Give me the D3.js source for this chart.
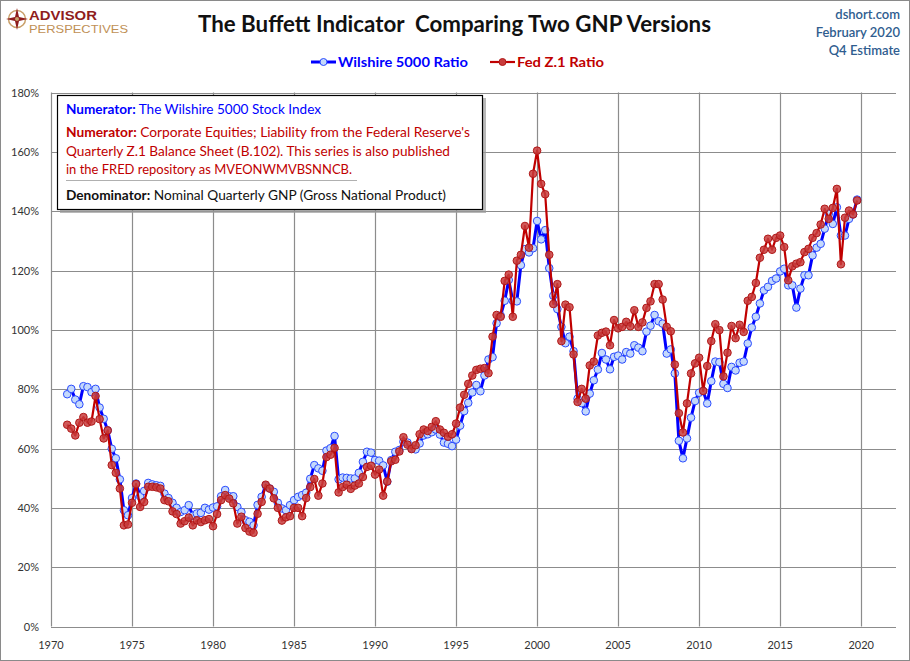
<!DOCTYPE html>
<html>
<head>
<meta charset="utf-8">
<script src="https://cdn.jsdelivr.net/npm/d3@7"></script>
<style>
  body { margin: 0; background: #fff; }
  svg { display: block; font-family: Lato, "Open Sans", sans-serif; }
</style>
</head>
<body>
<svg id="chart" width="910" height="661"></svg>
<script>
// quarterly ratios, Q1 1971 .. Q4 2019 (percent of GNP)
var firstYear = 1971, lastYear = 2019;

var wilshire = [
  78.3, 80.1, 76.5, 74.9,  81.0, 80.7, 79.0, 80.1,  73.8, 70.0, 66.1, 59.9,  56.7, 49.6, 39.2, 37.5,
  43.3, 48.2, 43.9, 45.7,  48.4, 47.9, 47.6, 47.4,  44.8, 43.3, 41.7, 40.0,  38.6, 39.2, 40.9, 37.3,
  38.1, 38.3, 40.0, 39.4,  40.1, 40.5, 43.9, 46.0,  43.9, 43.9, 40.3, 38.6,  35.8, 35.3, 34.1, 41.0,
  43.7, 47.5, 46.5, 45.4,  41.7, 39.8, 39.2, 40.9,  42.6, 43.7, 44.3, 45.1,  49.8, 54.4, 53.3, 52.5,
  59.3, 60.1, 64.2, 49.6,  50.2, 50.1, 49.9, 49.9,  51.8, 55.5, 58.9, 58.6,  56.1, 55.9, 54.3, 48.8,
  56.1, 58.9, 59.5, 62.3,  62.0, 60.1, 59.7, 61.7,  64.4, 64.8, 65.5, 66.4,  64.7, 62.0, 61.6, 60.8,
  63.0, 67.7, 72.6, 75.4,  78.9, 81.4, 79.3, 84.6,  90.0, 90.8, 102.2, 104.8, 109.8, 116.8, 109.8, 109.6,
  121.8, 127.2, 126.1, 127.5, 136.7, 130.5, 133.6, 120.8, 111.5, 107.0, 101.0, 95.5, 97.7, 92.8, 76.8, 75.3,
  72.5, 78.5, 83.0, 86.6,  92.2, 90.0, 86.7, 90.9,  91.3, 90.0, 92.5, 92.0,  94.8, 94.0, 92.8, 99.4,
  101.4, 105.0, 102.9, 102.1, 92.0, 93.4, 85.3, 62.6, 56.7, 63.4, 70.4, 76.0, 78.8, 79.4, 75.2, 82.7,
  89.3, 89.1, 81.8, 80.4,  87.5, 86.3, 88.9, 89.3,  95.4, 100.8, 104.4, 108.9, 113.3, 114.5, 116.5, 117.3,
  119.7, 120.6, 115.0, 115.0, 107.5, 113.9, 118.4, 118.4, 125.1, 127.7, 129.0, 134.1, 139.1, 135.7, 141.3, 131.8,
  131.8, 137.4, 138.9, 143.9
];

var fedZ1 = [
  68.0, 66.7, 64.4, 68.7,  70.6, 68.7, 69.1, 77.7,  69.9, 63.4, 66.1, 54.4,  51.8, 46.5, 34.1, 34.4,
  41.7, 48.0, 40.3, 42.0,  47.1, 47.1, 46.9, 46.5,  42.6, 42.2, 38.8, 37.9,  34.7, 35.5, 36.7, 34.1,
  35.8, 35.2, 35.8, 36.2,  33.8, 37.9, 42.6, 44.3,  43.1, 41.5, 34.7, 37.0,  33.2, 32.0, 31.6, 38.0,
  42.0, 47.8, 46.5, 43.2,  40.0, 35.7, 36.8, 37.2,  40.0, 40.0, 37.2, 43.3,  47.0, 49.7, 44.1, 48.2,
  57.1, 57.9, 60.2, 45.2,  47.0, 47.8, 46.4, 47.5,  48.2, 50.4, 53.8, 54.2,  51.2, 52.9, 44.1, 48.9,
  55.7, 56.2, 59.0, 63.8,  61.3, 59.8, 61.1, 64.8,  66.4, 65.9, 67.3, 69.2,  66.4, 65.3, 64.0, 64.8,
  68.4, 73.8, 78.1, 81.8,  84.6, 86.5, 86.9, 87.1,  85.4, 97.7, 105.0, 104.4, 116.5, 118.6, 104.4, 123.3,
  125.3, 135.0, 127.7, 152.6, 160.4, 149.2, 145.7, 125.3, 108.7, 115.4, 96.2, 108.5, 107.6, 91.7, 75.7, 80.1,
  76.8, 88.0, 89.3, 98.1,  99.0, 99.4, 94.8, 103.3,  100.5, 101.0, 102.7, 101.2, 106.6, 101.0, 102.5, 107.4,
  109.6, 115.4, 115.4, 110.2, 101.0, 99.5, 88.3, 71.9, 65.4, 75.2, 85.3, 88.7, 90.6, 79.4, 87.8, 96.2,
  101.9, 99.9, 84.3, 92.3, 101.3, 97.2, 101.7, 99.3, 109.8, 111.1, 115.8, 124.3, 127.0, 130.7, 127.0, 131.0,
  131.8, 127.9, 116.7, 121.4, 122.3, 122.8, 126.2, 127.3, 131.0, 132.6, 135.5, 140.8, 137.4, 141.1, 147.5, 122.1,
  137.8, 140.2, 138.9, 143.6
];

var yTicks = [0, 20, 40, 60, 80, 100, 120, 140, 160, 180];
var xTicks = [1970, 1975, 1980, 1985, 1990, 1995, 2000, 2005, 2010, 2015, 2020];

var titleText = "The Buffett Indicator  Comparing Two GNP Versions";
var sourceLines = ["dshort.com", "February 2020", "Q4 Estimate"];
var seriesNames = ["Wilshire 5000 Ratio", "Fed Z.1 Ratio"];

var quarters = d3.range(firstYear, lastYear + 1, 0.25);

var svg = d3.select("#chart"),
    margin = {top: 92.5, right: 14, bottom: 34.5, left: 51},
    width = +svg.attr("width") - margin.left - margin.right,
    height = +svg.attr("height") - margin.top - margin.bottom;

var blue = "#0000ff", red = "#c00000", grid = "#8c8c8c";

// frame
svg.append("rect").attr("x", 0.5).attr("y", 0.5).attr("width", 909).attr("height", 660)
  .attr("fill", "#fff").attr("stroke", "#8a8a8a");

var x = d3.scaleLinear().domain([1970, 2022.15]).range([margin.left, margin.left + width]);
var y = d3.scaleLinear().domain([0, 180]).range([margin.top + height, margin.top]);

var g = svg.append("g");

// grid
g.selectAll(".hgrid").data(yTicks).enter().append("line")
  .attr("x1", x(1970)).attr("x2", x.range()[1])
  .attr("y1", function(d) { return Math.round(y(d)) + 0.5; })
  .attr("y2", function(d) { return Math.round(y(d)) + 0.5; })
  .attr("stroke", grid).attr("stroke-width", 1.2);

g.selectAll(".vgrid").data(xTicks).enter().append("line")
  .attr("y1", y(180)).attr("y2", y(0))
  .attr("x1", function(d) { return Math.round(x(d)) + 0.5; })
  .attr("x2", function(d) { return Math.round(x(d)) + 0.5; })
  .attr("stroke", grid).attr("stroke-width", 1.2);

// tick labels
g.selectAll(".ylab").data(yTicks).enter().append("text")
  .attr("x", 39).attr("y", function(d) { return y(d) + 4; })
  .attr("text-anchor", "end").attr("font-size", 11).attr("fill", "#333")
  .text(function(d) { return d + "%"; });

g.selectAll(".xlab").data(xTicks).enter().append("text")
  .attr("x", function(d) { return x(d); }).attr("y", 649)
  .attr("text-anchor", "middle").attr("font-size", 11).attr("fill", "#333")
  .text(function(d) { return d; });

// series
var line = d3.line().x(function(d) { return x(d[0]); }).y(function(d) { return y(d[1]); });
var blueData = quarters.map(function(q, i) { return [q, wilshire[i]]; });
var redData = quarters.map(function(q, i) { return [q, fedZ1[i]]; });

g.append("path").datum(blueData).attr("d", line)
  .attr("fill", "none").attr("stroke", blue).attr("stroke-width", 3).attr("stroke-linejoin", "round");
g.selectAll(".bdot").data(blueData).enter().append("circle")
  .attr("cx", function(d) { return x(d[0]); }).attr("cy", function(d) { return y(d[1]); })
  .attr("r", 3.8).attr("fill", "#c4d8fb").attr("stroke", "#2a4bff").attr("stroke-width", 1);

g.append("path").datum(redData).attr("d", line)
  .attr("fill", "none").attr("stroke", red).attr("stroke-width", 2.2).attr("stroke-linejoin", "round");
g.selectAll(".rdot").data(redData).enter().append("circle")
  .attr("cx", function(d) { return x(d[0]); }).attr("cy", function(d) { return y(d[1]); })
  .attr("r", 3.8).attr("fill", "#c83c3c").attr("fill-opacity", 0.85)
  .attr("stroke", "#b01818").attr("stroke-width", 1);

// note box
var note = svg.append("g");
note.append("rect").attr("x", 60).attr("y", 98).attr("width", 426).attr("height", 115)
  .attr("fill", "#9a9a9a").attr("opacity", 0.7);
note.append("rect").attr("x", 57.5).attr("y", 95.5).attr("width", 425).attr("height", 114)
  .attr("fill", "#fff").attr("stroke", "#000").attr("stroke-width", 1.2);

var noteLines = [
  {y: 114, w: 255, color: blue, bold: "Numerator:", rest: " The Wilshire 5000 Stock Index"},
  {y: 137, w: 404, color: "#c00000", bold: "Numerator:", rest: " Corporate Equities; Liability from the Federal Reserve's"},
  {y: 155.5, w: 384, color: "#c00000", bold: "", rest: "Quarterly Z.1 Balance Sheet (B.102). This series is also published"},
  {y: 174, w: 286, color: "#c00000", bold: "", rest: "in the FRED repository as MVEONWMVBSNNCB."},
  {y: 199.5, w: 380, color: "#111", bold: "Denominator:", rest: " Nominal Quarterly GNP (Gross National Product)"}
];
noteLines.forEach(function(l) {
  var t = note.append("text").attr("x", 66).attr("y", l.y).attr("font-size", 13)
    .attr("fill", l.color).attr("textLength", l.w).attr("lengthAdjust", "spacingAndGlyphs");
  if (l.bold) t.append("tspan").attr("font-weight", "bold").text(l.bold);
  t.append("tspan").text(l.rest);
});
note.append("line").attr("x1", 66).attr("x2", 357).attr("y1", 180.5).attr("y2", 180.5)
  .attr("stroke", "#b0b0b0").attr("stroke-width", 1);

// title
svg.append("text").attr("x", 454.5).attr("y", 32).attr("text-anchor", "middle")
  .attr("font-size", 22).attr("font-weight", "bold").attr("fill", "#111")
  .attr("textLength", 513).attr("lengthAdjust", "spacingAndGlyphs")
  .style("white-space", "pre").text(titleText);

// source block
svg.selectAll(".src").data(sourceLines).enter().append("text")
  .attr("x", 900).attr("y", function(d, i) { return 19 + i * 18; })
  .attr("text-anchor", "end").attr("font-size", 13).attr("font-weight", 600)
  .attr("fill", "#2f5d8f").text(function(d) { return d; });

// logo
var logo = svg.append("g");
logo.append("circle").attr("cx", 17).attr("cy", 19).attr("r", 8.5)
  .attr("fill", "none").attr("stroke", "#c9a06a").attr("stroke-width", 1.5);
logo.append("path").attr("d", "M17,8 L19,17 L28,19 L19,21 L17,30 L15,21 L6,19 L15,17 Z")
  .attr("fill", "#8f1d1d");
logo.append("circle").attr("cx", 17).attr("cy", 19).attr("r", 2).attr("fill", "#c9a06a");
logo.append("text").attr("x", 29).attr("y", 20).attr("font-size", 13.5).attr("font-weight", "bold")
  .style("font-family", "'Liberation Sans', Arial, sans-serif")
  .attr("fill", "#8f1d1d").attr("textLength", 68).attr("lengthAdjust", "spacingAndGlyphs").text("ADVISOR");
logo.append("text").attr("x", 29).attr("y", 33).attr("font-size", 11.5)
  .style("font-family", "'Liberation Sans', Arial, sans-serif")
  .attr("fill", "#c09055").attr("textLength", 99).attr("lengthAdjust", "spacingAndGlyphs").text("PERSPECTIVES");

// legend
var legend = svg.append("g");
var legendItems = [
  {x0: 311, name: seriesNames[0], color: blue, w: 3, fill: "#c4d8fb", stroke: "#2a4bff", tw: 130},
  {x0: 490, name: seriesNames[1], color: red, w: 2.2, fill: "#c83c3c", stroke: "#b01818", tw: 87}
];
legendItems.forEach(function(d) {
  legend.append("line").attr("x1", d.x0).attr("x2", d.x0 + 25).attr("y1", 62).attr("y2", 62)
    .attr("stroke", d.color).attr("stroke-width", d.w);
  legend.append("circle").attr("cx", d.x0 + 12.5).attr("cy", 62).attr("r", 3.5)
    .attr("fill", d.fill).attr("stroke", d.stroke);
  legend.append("text").attr("x", d.x0 + 27).attr("y", 67).attr("font-size", 13.5).attr("font-weight", "bold")
    .attr("fill", d.color).attr("textLength", d.tw).attr("lengthAdjust", "spacingAndGlyphs").text(d.name);
});
</script>
</body>
</html>
